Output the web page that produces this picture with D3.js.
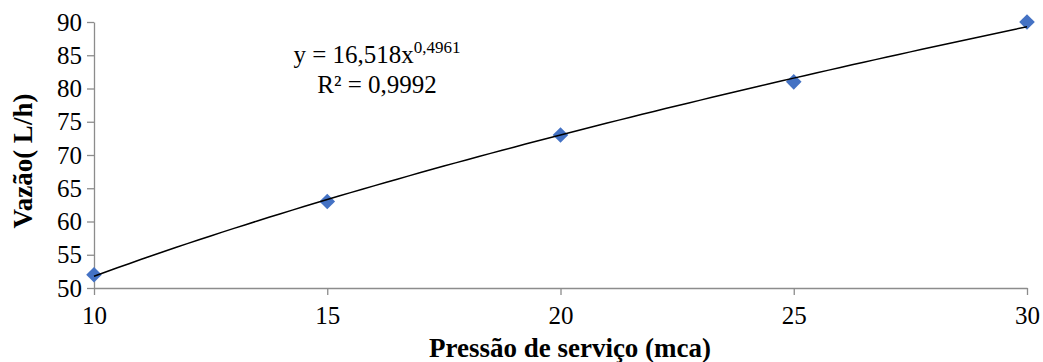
<!DOCTYPE html>
<html>
<head>
<meta charset="utf-8">
<script src="https://cdn.jsdelivr.net/npm/d3@7"></script>
<style>
  body { margin: 0; background: #fff; }
</style>
</head>
<body>
<svg id="chart" width="1043" height="362"></svg>
<script>
// data
const pressures = [10, 15, 20, 25, 30];
const flows = [52, 63, 73, 81, 90];
const xTicks = [10, 15, 20, 25, 30];
const yTicks = [50, 55, 60, 65, 70, 75, 80, 85, 90];
const fitCoef = 16.518;
const fitExp = 0.4961;

const fontFam = '"Liberation Serif"';

const margin = { top: 22, right: 16, bottom: 74, left: 94 };
const width = 1043 - margin.left - margin.right;
const height = 362 - margin.top - margin.bottom;

const svg = d3.select("#chart");
const g = svg.append("g").attr("transform", `translate(${margin.left},${margin.top})`);

const x = d3.scaleLinear().domain([10, 30]).range([0, width]);
const y = d3.scaleLinear().domain([50, 90]).range([height, 0]);

const axisColor = "#8c8c8c";

const yAxis = g.append("g")
    .call(d3.axisLeft(y).tickValues(yTicks).tickSize(7).tickPadding(5).tickSizeOuter(0));

const xAxis = g.append("g")
    .attr("transform", `translate(0,${height})`)
    .call(d3.axisBottom(x).tickValues(xTicks).tickSize(7).tickPadding(11).tickSizeOuter(0));

[xAxis, yAxis].forEach(a => {
    a.selectAll("text")
        .attr("fill", "#000")
        .style("font-family", fontFam)
        .style("font-size", "25px");
    a.select(".domain").attr("stroke", axisColor).attr("stroke-width", 1.3);
    a.selectAll(".tick line").attr("stroke", axisColor).attr("stroke-width", 1.3);
});

// markers
const pts = pressures.map((p, i) => ({ p, q: flows[i] }));
g.selectAll(".pt")
    .data(pts)
    .enter()
    .append("path")
    .attr("class", "pt")
    .attr("d", d3.symbol().type(d3.symbolDiamond2).size(155))
    .attr("transform", d => `translate(${x(d.p)},${y(d.q)})`)
    .attr("fill", "#4472C4");

// power trendline
const fit = d3.range(10, 30.01, 0.25).map(p => ({ p, q: fitCoef * Math.pow(p, fitExp) }));
g.append("path")
    .datum(fit)
    .attr("fill", "none")
    .attr("stroke", "#000")
    .attr("stroke-width", 1.5)
    .attr("d", d3.line().x(d => x(d.p)).y(d => y(d.q)));

// equation label
const eq = svg.append("text")
    .attr("x", 377)
    .attr("y", 63)
    .attr("text-anchor", "middle")
    .style("font-family", fontFam)
    .style("font-size", "25px");
eq.append("tspan").text("y = 16,518x");
eq.append("tspan").attr("dy", -10).style("font-size", "17px").text("0,4961");

svg.append("text")
    .attr("x", 377)
    .attr("y", 93)
    .attr("text-anchor", "middle")
    .style("font-family", fontFam)
    .style("font-size", "25px")
    .text("R² = 0,9992");

// axis titles
svg.append("text")
    .attr("transform", `translate(32,161) rotate(-90)`)
    .attr("text-anchor", "middle")
    .style("font-family", fontFam)
    .style("font-size", "27px")
    .style("font-weight", "bold")
    .text("Vazão( L/h)");

svg.append("text")
    .attr("x", 570)
    .attr("y", 357)
    .attr("text-anchor", "middle")
    .style("font-family", fontFam)
    .style("font-size", "27px")
    .style("font-weight", "bold")
    .text("Pressão de serviço (mca)");
</script>
</body>
</html>
